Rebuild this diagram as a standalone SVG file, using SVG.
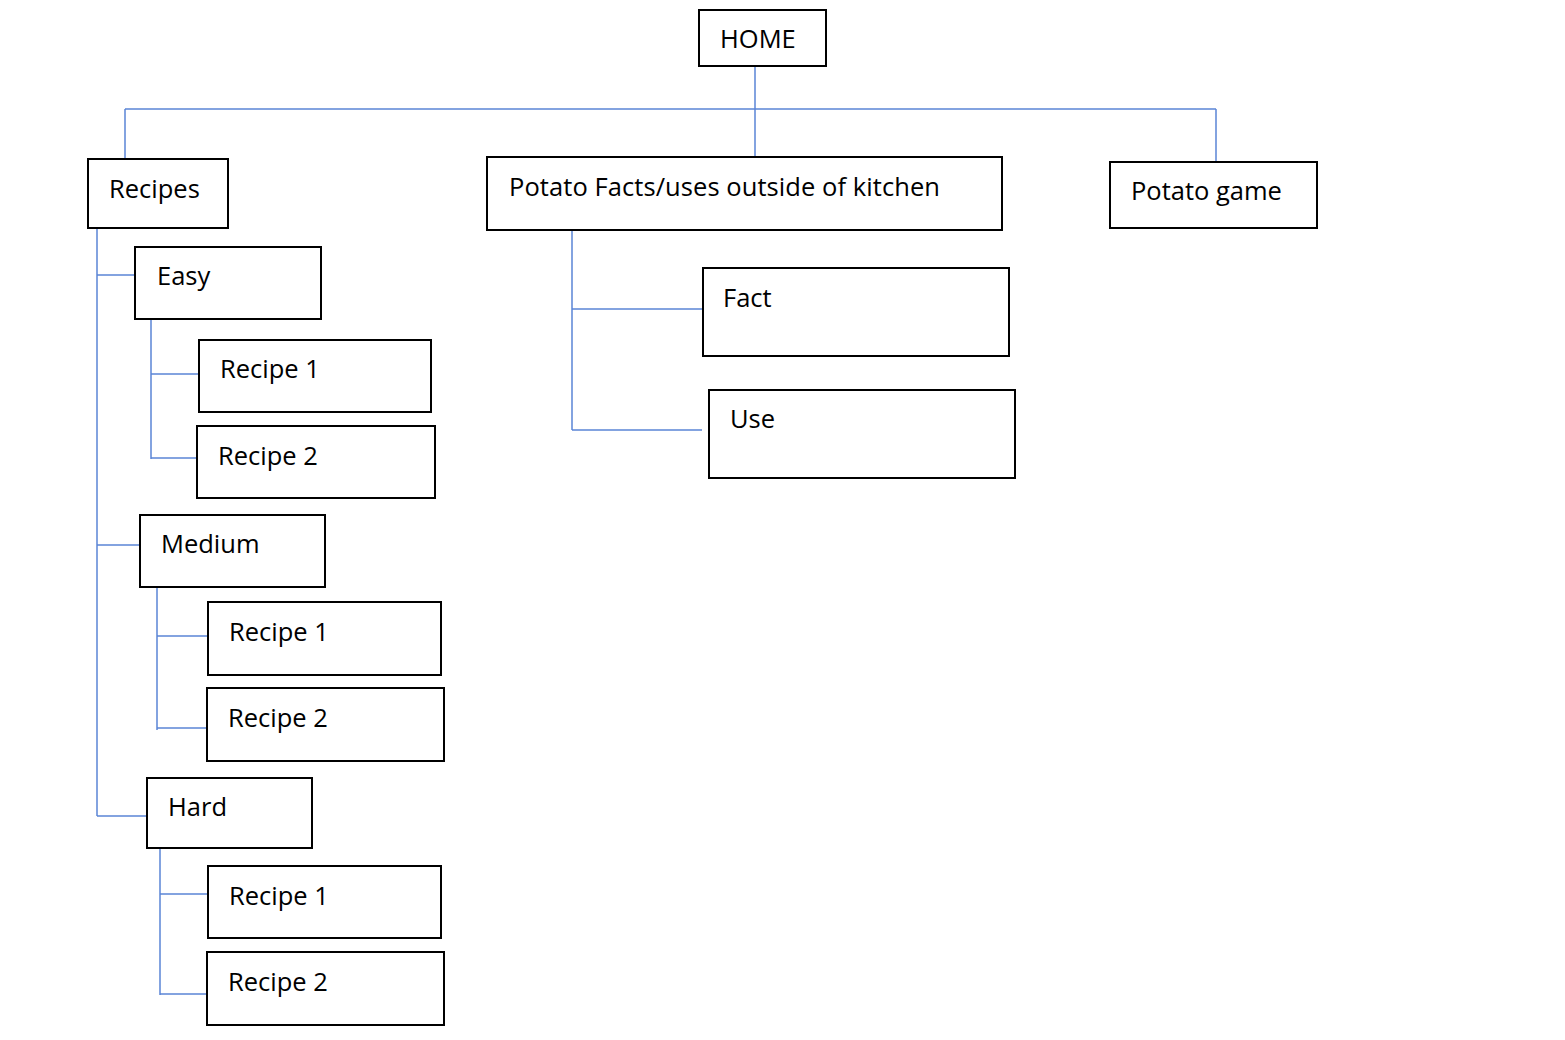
<svg xmlns="http://www.w3.org/2000/svg" width="1565" height="1040" viewBox="0 0 1565 1040">
<style>
.box{fill:#fff;stroke:#000;stroke-width:2}
.lbl{font-family:"Open Sans","Noto Sans",sans-serif;font-size:25.5px;fill:#000}
.conn{fill:none;stroke:#5b85d6;stroke-width:1.5}
</style>
<rect width="1565" height="1040" fill="#fff"/>
<g id="connectors" class="conn">
<path d="M755 66V156M125 109H1216M125 109V159M1216 109V162"/>
<path d="M97 229V816M97 275H135M97 545H140M97 816H147"/>
<path d="M151 320V459M151 374H199M151 458H197"/>
<path d="M157 588V730M157 636H208M157 728H207"/>
<path d="M160 849V995M160 894H208M160 994H207"/>
<path d="M572 230V430M572 309H703M572 430H702"/>
</g>
<g id="home"><rect class="box" x="699" y="10" width="127" height="56"/><text class="lbl" x="720" y="48">HOME</text></g>
<g id="recipes"><rect class="box" x="88" y="159" width="140" height="69"/><text class="lbl" x="109" y="198">Recipes</text></g>
<g id="facts"><rect class="box" x="487" y="157" width="515" height="73"/><text class="lbl" x="509" y="196" textLength="431" lengthAdjust="spacing">Potato Facts/uses outside of kitchen</text></g>
<g id="game"><rect class="box" x="1110" y="162" width="207" height="66"/><text class="lbl" x="1131" y="200">Potato game</text></g>
<g id="easy"><rect class="box" x="135" y="247" width="186" height="72"/><text class="lbl" x="157" y="285">Easy</text></g>
<g id="easy-r1"><rect class="box" x="199" y="340" width="232" height="72"/><text class="lbl" x="220" y="378">Recipe 1</text></g>
<g id="easy-r2"><rect class="box" x="197" y="426" width="238" height="72"/><text class="lbl" x="218" y="465">Recipe 2</text></g>
<g id="medium"><rect class="box" x="140" y="515" width="185" height="72"/><text class="lbl" x="161" y="553">Medium</text></g>
<g id="medium-r1"><rect class="box" x="208" y="602" width="233" height="73"/><text class="lbl" x="229" y="641">Recipe 1</text></g>
<g id="medium-r2"><rect class="box" x="207" y="688" width="237" height="73"/><text class="lbl" x="228" y="727">Recipe 2</text></g>
<g id="hard"><rect class="box" x="147" y="778" width="165" height="70"/><text class="lbl" x="168" y="816">Hard</text></g>
<g id="hard-r1"><rect class="box" x="208" y="866" width="233" height="72"/><text class="lbl" x="229" y="905">Recipe 1</text></g>
<g id="hard-r2"><rect class="box" x="207" y="952" width="237" height="73"/><text class="lbl" x="228" y="991">Recipe 2</text></g>
<g id="fact"><rect class="box" x="703" y="268" width="306" height="88"/><text class="lbl" x="723" y="307">Fact</text></g>
<g id="use"><rect class="box" x="709" y="390" width="306" height="88"/><text class="lbl" x="730" y="428">Use</text></g>
</svg>
